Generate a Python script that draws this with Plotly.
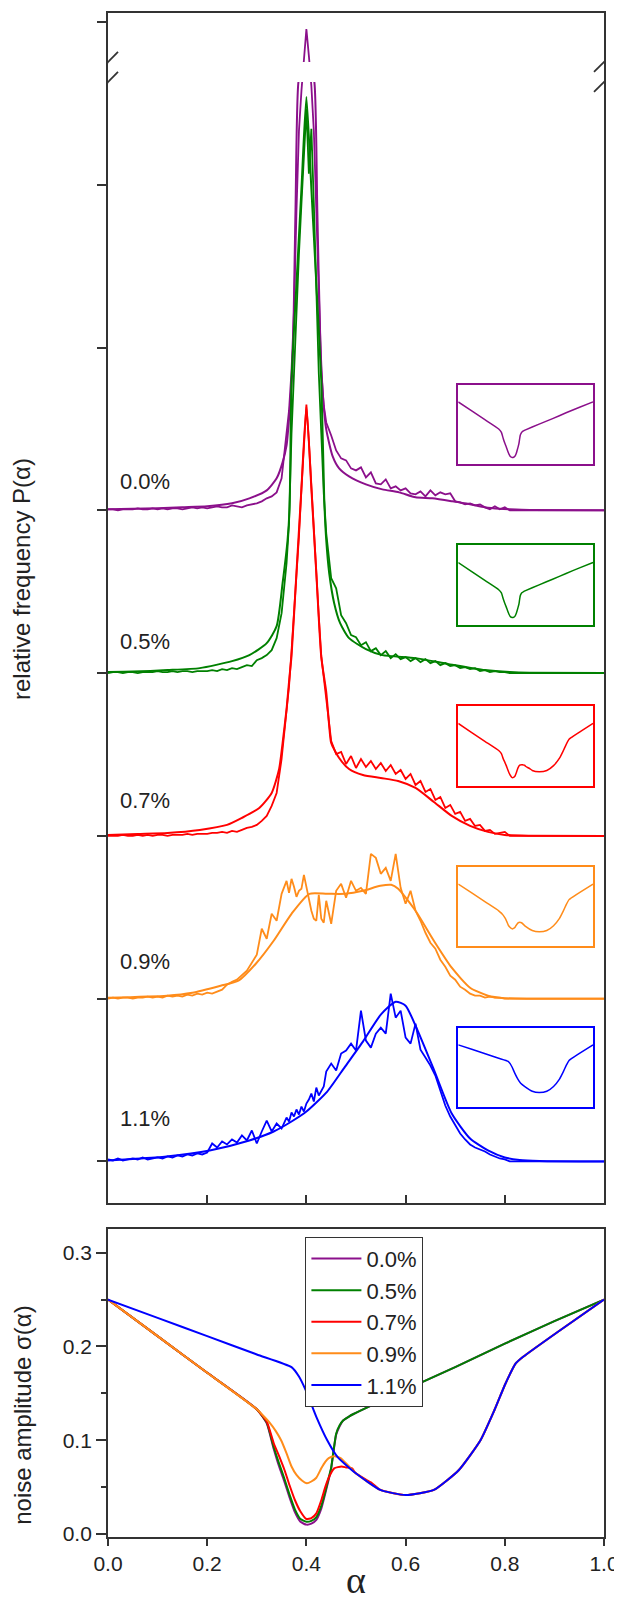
import plotly.graph_objects as go

# ---------------- data ----------------
LABELS = ["0.0%", "0.5%", "0.7%", "0.9%", "1.1%"]
COLORS = ["#8B108B", "#008000", "#FF0000", "#FF8C1A", "#0000FF"]

# histogram alpha grid
ALPHA_H = ([round(i * 0.01, 3) for i in range(0, 37)]
           + [round(0.365 + i * 0.005, 3) for i in range(16)]
           + [round(0.45 + i * 0.01, 3) for i in range(56)])

Z19 = [0] * 19

HIST_00 = ([1, 1, 0, 1, 1, 1, 2, 1, 1, 2, 1, 2, 1, 2, 2, 1, 2, 3, 2, 3,
            2, 3, 4, 3, 3, 5, 4, 3, 5, 6, 7, 9, 12, 14, 18, 32, 75]
           + [100, 140, 200, 300, 380, 420, 455, 482, 455, 425, 380, 300, 200, 140, 105, 88]
           + [75, 60, 52, 50, 42, 40, 43, 33, 38, 27, 26, 31, 22, 24, 20, 22, 17, 16, 19, 14,
              20, 15, 18, 16, 17, 9, 8, 6, 7, 5, 6, 3, 1, 4, 1, 3, 0] + Z19)
HIST_05 = ([0, 1, 1, 0, 1, 1, 0, 1, 1, 1, 2, 1, 1, 2, 1, 2, 2, 1, 2, 2,
            2, 3, 2, 4, 3, 5, 4, 6, 8, 7, 13, 15, 18, 23, 35, 60, 110]
           + [150, 240, 300, 370, 420, 470, 520, 565, 500, 545, 470, 380, 300, 240, 180, 140]
           + [95, 85, 58, 50, 38, 36, 28, 31, 22, 25, 18, 22, 15, 19, 14, 16, 12, 15, 11, 14,
              10, 12, 8, 10, 7, 8, 5, 6, 4, 5, 2, 3, 1, 2, 1, 1, 0] + Z19)
HIST_07 = ([0, 0, 0, 1, 0, 0, 1, 0, 1, 0, 1, 1, 0, 1, 1, 1, 2, 1, 2, 2,
            2, 3, 3, 4, 3, 5, 4, 6, 8, 9, 11, 15, 20, 30, 43, 77, 127]
           + [150, 185, 220, 262, 300, 348, 390, 432, 395, 350, 300, 262, 220, 180, 160, 140]
           + [95, 82, 84, 72, 80, 68, 77, 69, 75, 67, 73, 65, 71, 62, 66, 57, 62, 51, 55, 44,
              47, 36, 39, 28, 31, 22, 24, 15, 17, 10, 11, 5, 6, 2, 3, 4, 0] + Z19)
HIST_09 = ([0, 1, 0, 1, 1, 0, 1, 1, 2, 1, 2, 1, 3, 2, 3, 2, 4, 3, 5, 4,
            6, 5, 7, 9, 14, 17, 19, 24, 28, 36, 44, 70, 60, 85, 78, 105, 118]
           + [106, 120, 112, 102, 108, 110, 124, 112, 100, 88, 80, 78, 104, 80, 76, 98]
           + [75, 108, 115, 101, 118, 108, 111, 105, 145, 141, 125, 131, 118, 145, 111, 95, 108, 88, 78, 66,
              56, 50, 39, 32, 23, 19, 12, 9, 5, 3, 3, 1, 2, 1, 1, 0, 0] + Z19)
HIST_11 = ([2, 1, 3, 1, 2, 3, 2, 4, 2, 3, 4, 3, 5, 4, 6, 5, 7, 6, 8, 7,
            9, 18, 14, 20, 17, 22, 19, 26, 21, 31, 18, 30, 41, 30, 38, 33, 44]
           + [40, 49, 45, 52, 47, 55, 50, 58, 62, 68, 60, 74, 66, 70, 75, 90]
           + [98, 91, 108, 111, 118, 111, 151, 121, 114, 128, 134, 128, 168, 144, 151, 124, 118, 138, 112, 104,
              96, 86, 70, 56, 45, 36, 28, 22, 17, 14, 12, 10, 7, 5, 3, 2, 0] + Z19)

FIT_00_X = [0, .05, .10, .15, .20, .25, .285, .32, .34, .352, .36, .366, .372, .378, .384, .392, .40,
            .408, .416, .422, .428, .434, .44, .453, .466, .486, .52, .553, .587, .62, .654, .694,
            .73, .76, .79, .81, .85, 1.0]
FIT_00_Y = [1, 1.5, 2, 3, 4, 7, 12, 20, 32, 48, 65, 98, 144, 300, 429, 444, 448,
            444, 429, 300, 170, 110, 81, 54, 42, 34, 26, 21, 18, 13, 12, 9,
            6, 3, 1.5, 1, 0.3, 0]
FIT_05_X = [0, .05, .12, .185, .25, .285, .32, .34, .352, .362, .366, .37, .38, .39, .40, .41, .42,
            .43, .436, .44, .446, .456, .468, .486, .52, .553, .62, .687, .76, .81, .85, 1.0]
FIT_05_Y = [1, 1.5, 3, 5, 12, 18, 30, 47, 90, 133, 165, 293, 390, 485, 577, 485, 390,
            293, 173, 133, 100, 70, 50, 35, 24, 18, 15, 9, 3, 1, 0.3, 0]
FIT_07_X = [0, .06, .12, .185, .24, .27, .305, .33, .345, .352, .36, .366, .37, .38, .39, .40, .41,
            .42, .43, .44, .446, .45, .466, .486, .514, .55, .585, .62, .657, .693, .73, .766, .80,
            .85, 1.0]
FIT_07_Y = [1, 2, 3, 6, 11, 18, 28, 43, 67, 93, 127, 160, 180, 264, 348, 430, 348,
            263, 179, 144, 110, 93, 78, 67, 61, 58, 55, 48, 34, 20, 10, 4, 1,
            0.2, 0]
FIT_09_X = [0, .119, .17, .227, .263, .298, .334, .37, .406, .442, .478, .514, .549, .571, .585,
            .62, .657, .693, .73, .766, .80, .85, 1.0]
FIT_09_Y = [1, 3, 6, 13, 18, 35, 58, 85, 105, 105, 105, 108, 113, 114, 110,
            88, 58, 31, 11, 3, 0.5, 0, 0]
FIT_11_X = [0, .05, .118, .205, .285, .334, .37, .40, .442, .478, .514, .55, .58, .60, .62, .657,
            .693, .73, .766, .80, .83, .87, 1.0]
FIT_11_Y = [1, 2.5, 5, 11, 21, 30, 40, 50, 70, 95, 120, 147, 160, 156, 136, 92,
            48, 23, 11, 4, 1.5, 0.5, 0]

# noise amplitude sigma(alpha)
SIG_00_X = [0, .1, .2, .3, .32, .334, .345, .355, .366, .377, .388, .40, .41, .42, .43, .437, .445,
            .45, .455, .46, .467, .474, .485, .495, .6, .7, .8, .9, 1.0]
SIG_00_Y = [.25, .211, .172, .133, .118, .091, .072, .057, .039, .023, .013, .010, .011, .015, .027,
            .041, .058, .070, .089, .106, .115, .121, .125, .128, .154, .178, .203, .227, .25]
SIG_05_X = SIG_00_X
SIG_05_Y = [.25, .211, .172, .133, .119, .093, .075, .06, .042, .026, .016, .013, .014, .018, .03,
            .043, .06, .071, .09, .107, .116, .121, .125, .128, .154, .178, .203, .227, .25]
SIG_07_X = [0, .1, .2, .3, .32, .334, .345, .356, .366, .377, .388, .40, .41, .42, .43, .438, .445,
            .456, .471, .48, .492, .499, .53, .549, .6, .657, .707, .751, .779, .801, .822, .837,
            .908, 1.0]
SIG_07_Y = [.25, .211, .172, .133, .12, .097, .083, .068, .052, .036, .024, .016, .017, .022, .036,
            .05, .06, .07, .072, .071, .07, .065, .055, .047, .0415, .047, .068, .1, .132, .16, .182,
            .189, .216, .25]
SIG_09_X = [0, .1, .2, .3, .315, .327, .338, .349, .36, .37, .38, .391, .401, .41, .42, .43, .438,
            .445, .456, .469, .499, .549, .6, .657, .707, .751, .779, .801, .822, .837, .908, 1.0]
SIG_09_Y = [.25, .211, .172, .133, .125, .118, .11, .1, .086, .072, .063, .057, .054, .056, .06, .07,
            .077, .081, .083, .081, .065, .047, .0415, .047, .068, .1, .132, .16, .182, .189, .216, .25]
SIG_11_X = [0, .1, .2, .3, .37, .385, .399, .42, .442, .463, .499, .549, .6, .657, .707, .751, .779,
            .801, .822, .837, .908, 1.0]
SIG_11_Y = [.25, .2305, .211, .1915, .178, .168, .153, .125, .1, .082, .065, .047, .0415, .047, .068,
            .1, .132, .16, .182, .189, .216, .25]

HISTS = [HIST_00, HIST_05, HIST_07, HIST_09, HIST_11]
FITS = [(FIT_00_X, FIT_00_Y), (FIT_05_X, FIT_05_Y), (FIT_07_X, FIT_07_Y),
        (FIT_09_X, FIT_09_Y), (FIT_11_X, FIT_11_Y)]
SIGS = [(SIG_00_X, SIG_00_Y), (SIG_05_X, SIG_05_Y), (SIG_07_X, SIG_07_Y),
        (SIG_09_X, SIG_09_Y), (SIG_11_X, SIG_11_Y)]

# ---------------- layout constants ----------------
STEP = 163                                  # vertical offset between stacked curves
OFFSETS = [4 * STEP, 3 * STEP, 2 * STEP, STEP, 0]
LABEL_Y = [681, 521, 361, 200, 43]
INSET_DOMAINS = [[0.7038, 0.7562], [0.5983, 0.6508], [0.4928, 0.5452],
                 [0.3879, 0.4397], [0.2824, 0.3342]]
AX = "#333333"
FONT = "Liberation Sans, Arial, sans-serif"

fig = go.Figure()

# top panel: histograms + fits
for i in range(5):
    off = OFFSETS[i]
    fig.add_trace(go.Scatter(x=ALPHA_H, y=[v + off for v in HISTS[i]], mode="lines",
                             line=dict(color=COLORS[i], width=1.8), xaxis="x", yaxis="y",
                             showlegend=False, hoverinfo="skip"))
    fx, fy = FITS[i]
    fig.add_trace(go.Scatter(x=fx, y=[v + off for v in fy], mode="lines",
                             line=dict(color=COLORS[i], width=2, shape="spline", smoothing=0.6),
                             xaxis="x", yaxis="y", showlegend=False, hoverinfo="skip"))

# bottom panel: sigma curves
for i in range(5):
    sx, sy = SIGS[i]
    fig.add_trace(go.Scatter(x=sx, y=sy, mode="lines", name=LABELS[i],
                             line=dict(color=COLORS[i], width=2, shape="spline", smoothing=0.5),
                             xaxis="x2", yaxis="y2"))

# insets
for i in range(5):
    sx, sy = SIGS[i]
    k = i + 3
    fig.add_trace(go.Scatter(x=sx, y=sy, mode="lines",
                             line=dict(color=COLORS[i], width=1.5, shape="spline", smoothing=0.5),
                             xaxis=f"x{k}", yaxis=f"y{k}", showlegend=False, hoverinfo="skip"))

# figure offset by the page's 8px body margin
layout = dict(
    width=614, height=1596, autosize=False,
    margin=dict(l=100, r=17, t=3, b=67),
    paper_bgcolor="white", plot_bgcolor="white",
    font=dict(family=FONT, size=21, color="#222"),
    showlegend=True,
    legend=dict(x=0.398, y=0.197, xanchor="left", yanchor="top",
                bordercolor=AX, borderwidth=1, bgcolor="white",
                font=dict(family=FONT, size=22, color="#222"),
                itemwidth=50, tracegroupgap=0),
    xaxis=dict(domain=[0, 1], anchor="y", range=[0, 1], showline=True, mirror=True,
               linecolor=AX, linewidth=1.8, ticks="inside", tickvals=[0.2, 0.4, 0.6, 0.8],
               ticklen=8, tickwidth=1.5, tickcolor=AX, showticklabels=False,
               showgrid=False, zeroline=False),
    yaxis=dict(domain=[0.2189, 1], anchor="x", range=[-42, 1150], showline=True, mirror=True,
               linecolor=AX, linewidth=1.8, ticks="outside",
               tickvals=[k * STEP for k in range(8)], ticklen=9, tickwidth=1.5, tickcolor=AX,
               showticklabels=False, showgrid=False, zeroline=False),
    xaxis2=dict(domain=[0, 1], anchor="y2", range=[0, 1], showline=True, mirror=True,
                linecolor=AX, linewidth=1.8, ticks="outside", tickvals=[0, 0.2, 0.4, 0.6, 0.8, 1.0],
                tickformat=".1f", ticklen=7, tickwidth=1.5, tickcolor=AX, ticklabeloverflow="allow",
                tickfont=dict(size=21, color="#222"), showgrid=False, zeroline=False),
    yaxis2=dict(domain=[0, 0.2018], anchor="x2", range=[-0.0032, 0.3248], showline=True, mirror=True,
                linecolor=AX, linewidth=1.8, ticks="outside", tickvals=[0, 0.1, 0.2, 0.3],
                tickformat=".1f", ticklen=10, tickwidth=1.5, tickcolor=AX,
                tickfont=dict(size=21, color="#222"), showgrid=False, zeroline=False,
                minor=dict(tickvals=[0.05, 0.15, 0.25], ticks="outside", ticklen=5,
                           tickwidth=1.5, tickcolor=AX)),
)
for i in range(5):
    k = i + 3
    layout[f"xaxis{k}"] = dict(domain=[0.7062, 0.9779], anchor=f"y{k}", range=[0, 1],
                               showline=True, mirror=True, linecolor=COLORS[i], linewidth=1.5,
                               ticks="", showticklabels=False, showgrid=False, zeroline=False)
    layout[f"yaxis{k}"] = dict(domain=INSET_DOMAINS[i], anchor=f"x{k}", range=[-0.02, 0.325],
                               showline=True, mirror=True, linecolor=COLORS[i], linewidth=1.5,
                               ticks="", showticklabels=False, showgrid=False, zeroline=False)
fig.update_layout(**layout)

# axis break: white band + slashes
shapes = [dict(type="rect", xref="x domain", yref="y", x0=0.004, x1=0.996, y0=1081, y1=1101,
               fillcolor="white", line=dict(width=0), layer="above")]
for xa in (0, 1):
    for ya in (1101, 1081):
        shapes.append(dict(type="line", xref="x", yref="y", xsizemode="pixel", ysizemode="pixel",
                           xanchor=xa, yanchor=ya, x0=-10, x1=10, y0=-10, y1=10,
                           line=dict(color=AX, width=1.8), layer="above"))
fig.update_layout(shapes=shapes)

annotations = []
for i in range(5):
    annotations.append(dict(x=0.02, y=LABEL_Y[i], xref="x", yref="y", text=LABELS[i],
                            showarrow=False, xanchor="left", yanchor="middle",
                            font=dict(family=FONT, size=22, color="#222")))
annotations.append(dict(x=-0.174, y=0.6284, xref="paper", yref="paper",
                        text="relative frequency P(\u03b1)", textangle=-90, showarrow=False,
                        xanchor="center", yanchor="middle",
                        font=dict(family=FONT, size=24, color="#222")))
annotations.append(dict(x=-0.174, y=0.08, xref="paper", yref="paper",
                        text="noise amplitude \u03c3(\u03b1)", textangle=-90, showarrow=False,
                        xanchor="center", yanchor="middle",
                        font=dict(family=FONT, size=24, color="#222")))
annotations.append(dict(x=0.5, y=-0.0435, xref="paper", yref="paper", text="\u03b1",
                        showarrow=False, xanchor="center", yanchor="bottom",
                        font=dict(family="Liberation Serif, DejaVu Serif, serif", size=38, color="#222")))
fig.update_layout(annotations=annotations)

fig.write_html("out.html")
